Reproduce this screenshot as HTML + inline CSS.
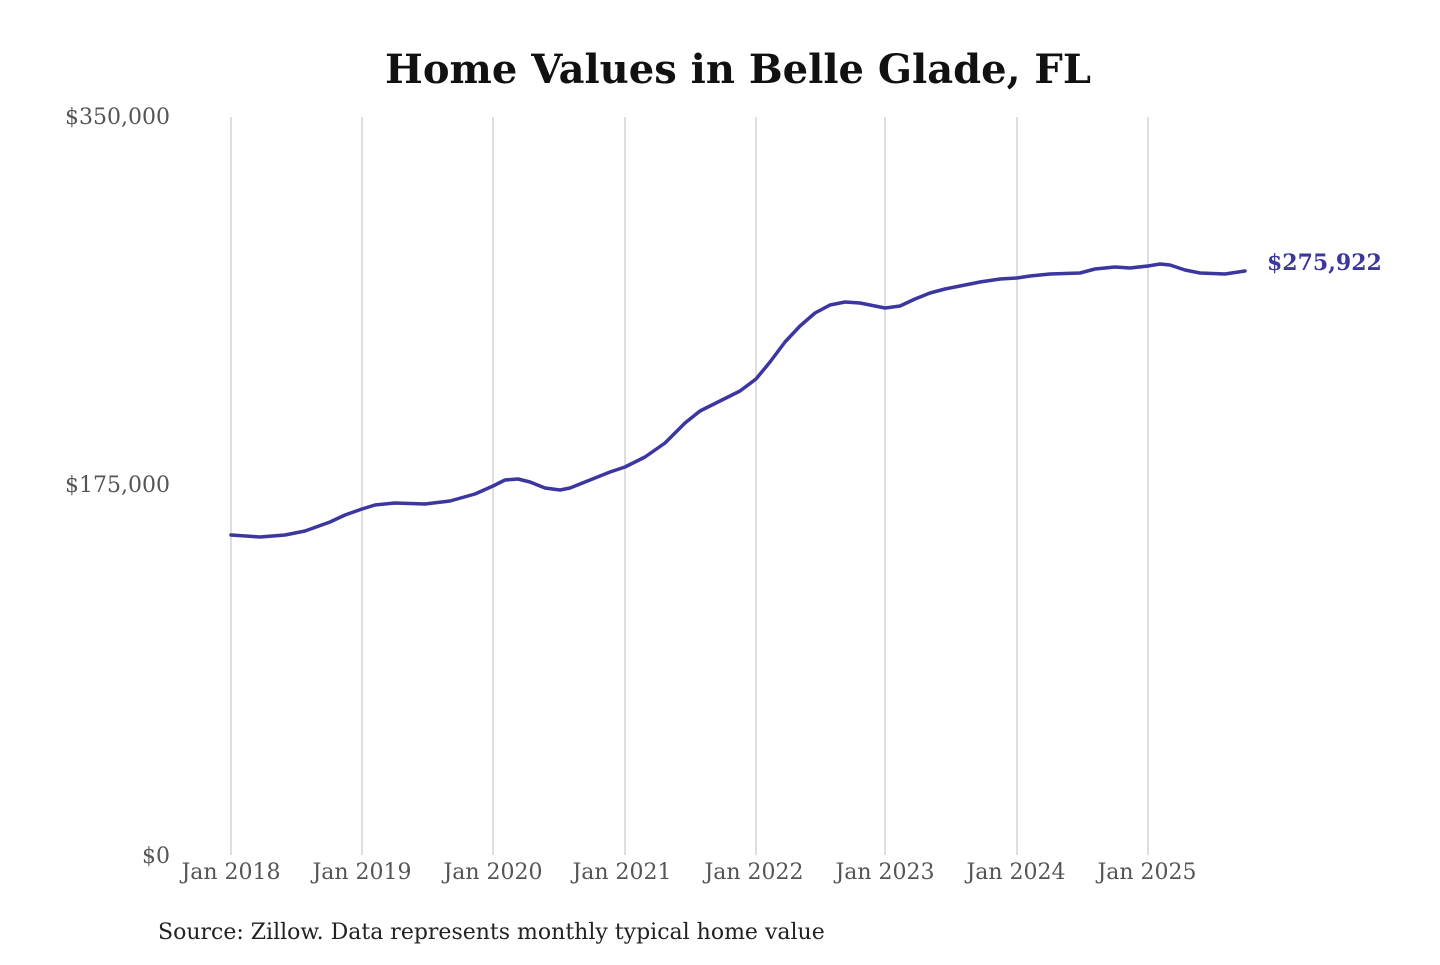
<!DOCTYPE html>
<html><head><meta charset="utf-8"><style>
html,body{margin:0;padding:0;background:#fff;}
body{width:1440px;height:960px;overflow:hidden;}
</style></head><body>
<svg width="1440" height="960" xmlns="http://www.w3.org/2000/svg" font-family="'Liberation Serif', 'DejaVu Serif', serif">
<text x="738" y="83" text-anchor="middle" font-size="40" font-weight="bold" fill="#111" font-family="'DejaVu Serif', serif">Home Values in Belle Glade, FL</text>
<g stroke="#c8c8c8" stroke-width="1.2">
<line x1="231" y1="117" x2="231" y2="855"/><line x1="362" y1="117" x2="362" y2="855"/>
<line x1="493" y1="117" x2="493" y2="855"/><line x1="625" y1="117" x2="625" y2="855"/>
<line x1="756" y1="117" x2="756" y2="855"/><line x1="885" y1="117" x2="885" y2="855"/>
<line x1="1017" y1="117" x2="1017" y2="855"/><line x1="1148" y1="117" x2="1148" y2="855"/>
</g>
<g font-size="22" fill="#555" font-family="'DejaVu Serif', serif">
<text x="170" y="124" text-anchor="end">$350,000</text>
<text x="170" y="492" text-anchor="end">$175,000</text>
<text x="170" y="863" text-anchor="end">$0</text>
<g text-anchor="middle">
<text x="231" y="879">Jan 2018</text><text x="362" y="879">Jan 2019</text>
<text x="493" y="879">Jan 2020</text><text x="622" y="879">Jan 2021</text>
<text x="754" y="879">Jan 2022</text><text x="885" y="879">Jan 2023</text>
<text x="1016" y="879">Jan 2024</text><text x="1147" y="879">Jan 2025</text>
</g></g>
<polyline fill="none" stroke="#3b36a0" stroke-width="3.5" stroke-linejoin="round" stroke-linecap="round" points="231,535 260,537 285,535 305,531 330,522 345,515 362,509 375,505 395,503 425,504 450,501 475,494 493,486 505,480 518,479 530,482 545,488 560,490 570,488 590,480 610,472 625,467 645,457 665,443 685,423 700,411 720,401 740,391 756,379 770,362 785,342 800,326 815,313 830,305 845,302 860,303 875,306 885,308 900,306 915,299 930,293 945,289 960,286 980,282 1000,279 1017,278 1030,276 1050,274 1080,273 1095,269 1115,267 1130,268 1148,266 1160,264 1170,265 1185,270 1200,273 1225,274 1245,271"/>
<text x="1267" y="270" font-size="22" font-weight="bold" fill="#3b36a0" font-family="'DejaVu Serif', serif">$275,922</text>
<text x="158" y="939" font-size="22" fill="#222" font-family="'DejaVu Serif', serif">Source: Zillow. Data represents monthly typical home value</text>
</svg>
</body></html>
